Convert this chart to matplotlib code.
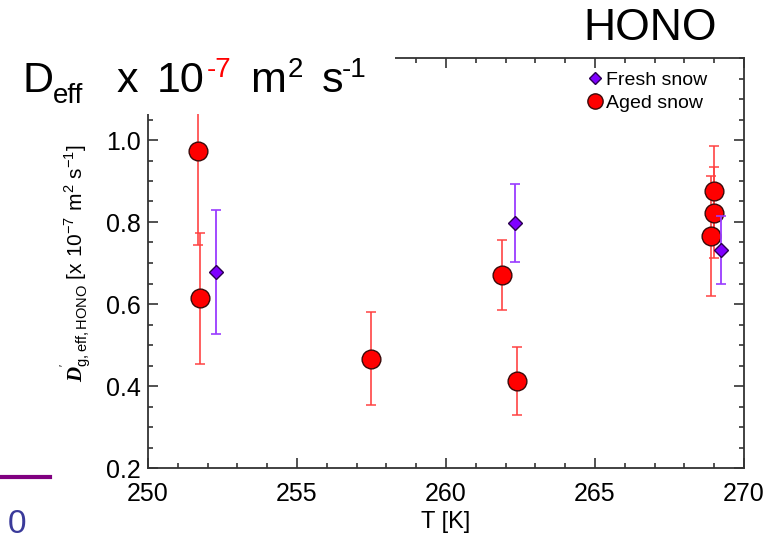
# HONO effective diffusivity vs temperature, fresh / aged snow
import matplotlib
matplotlib.use('Agg')
import matplotlib.pyplot as plt
from matplotlib.lines import Line2D
from matplotlib.patches import Rectangle
from matplotlib.ticker import MultipleLocator

plt.rcParams['font.family'] = ['Liberation Sans', 'DejaVu Sans']
plt.rcParams['mathtext.fontset'] = 'custom'
plt.rcParams['mathtext.rm'] = 'Liberation Sans'
plt.rcParams['mathtext.it'] = 'Liberation Sans:italic'
plt.rcParams['mathtext.bf'] = 'Liberation Serif:italic:bold'

# fresh snow (purple diamonds)
fresh_T = [252.27, 262.30, 269.23]
fresh_D = [0.678, 0.798, 0.732]
fresh_err = [0.152, 0.095, 0.082]

# aged snow (red circles)
aged_T = [251.67, 251.76, 257.48, 261.89, 262.39, 269.00, 269.00, 268.89]
aged_D = [0.974, 0.614, 0.467, 0.671, 0.412, 0.876, 0.823, 0.766]
aged_err = [0.230, 0.160, 0.113, 0.085, 0.082, 0.109, 0.112, 0.147]

legend_labels = ['Fresh snow', 'Aged snow']

W, H = 784, 540
fig = plt.figure(figsize=(W / 100, H / 100), dpi=100)
ax = fig.add_axes([148 / W, 1 - 468 / H, (744 - 148) / W, (468 - 58) / H])

# error bars + markers
ax.errorbar(aged_T, aged_D, yerr=aged_err, fmt='none', ecolor='#ff4040',
            elinewidth=1.3, capsize=3.5, capthick=1.2, alpha=0.9, zorder=2)
ax.plot(aged_T, aged_D, 'o', ms=13.5, mfc='#ff0000', mec='#3a0a0a', mew=1.0,
        ls='none', zorder=3)
ax.errorbar(fresh_T, fresh_D, yerr=fresh_err, fmt='none', ecolor='#9a3cff',
            elinewidth=1.3, capsize=3.5, capthick=1.2, zorder=4)
ax.plot(fresh_T, fresh_D, 'D', ms=7.5, mfc='#7f00ff', mec='#2a0050', mew=1.0,
        ls='none', zorder=5)

ax.set_xlim(250, 270)
ax.set_ylim(0.2, 1.2)
ax.xaxis.set_major_locator(MultipleLocator(5))
ax.xaxis.set_minor_locator(MultipleLocator(1))
ax.yaxis.set_major_locator(MultipleLocator(0.2))
ax.yaxis.set_minor_locator(MultipleLocator(0.05))
ax.tick_params(which='both', direction='in', top=True, right=True,
               labelsize=18, color='#333333', width=1.2)
ax.tick_params(which='major', length=7)
ax.tick_params(which='minor', length=3.5)
ax.tick_params(axis='x', pad=10)
ax.tick_params(axis='y', pad=5)
ax.set_yticks([0.2, 0.4, 0.6, 0.8, 1.0])
ax.yaxis.set_major_formatter(plt.FormatStrFormatter('%.1f'))
for s in ax.spines.values():
    s.set_linewidth(1.3)
    s.set_color('#333333')

ax.set_xlabel('T [K]', fontsize=17, labelpad=4)
ax.set_ylabel(r"$\mathbf{D}^{'}_{\rm g,eff,HONO}$ [x 10$^{-7}$ m$^{2}$ s$^{-1}$]",
              fontsize=15)
ax.yaxis.set_label_coords(-0.09, 0.5)

handles = [
    Line2D([], [], marker='D', ls='none', ms=6.5, mfc='#7f00ff', mec='#2a0050'),
    Line2D([], [], marker='o', ls='none', ms=11, mfc='#ff0000', mec='#3a0a0a'),
]
fig.legend(handles, legend_labels, loc='upper left',
           bbox_to_anchor=(587 / W, 1 - 71 / H), frameon=False, fontsize=14,
           handlelength=0.8, handletextpad=0.2, labelspacing=0.3,
           borderaxespad=0, borderpad=0)

# white box with the big unit label over the top-left corner
fig.add_artist(Rectangle((0, 1 - 114 / H), 395 / W, 114 / H,
                         transform=fig.transFigure, facecolor='white',
                         edgecolor='none', zorder=5))

base = 1 - 92 / H
pieces = [
    ('D', 22, 0, 31, 'black'),
    ('eff', 53, -11, 20, 'black'),
    ('x', 117, 0, 31, 'black'),
    ('10', 157, 0, 31, 'black'),
    ('-7', 207, 15, 20, 'red'),
    ('m', 250, 0, 31, 'black'),
    ('2', 288, 15, 20, 'black'),
    ('s', 322, 0, 31, 'black'),
    ('-1', 342, 15, 20, 'black'),
]
for txt, px, dy, size, col in pieces:
    fig.text(px / W, base + dy / H, txt, fontsize=size, color=col,
             ha='left', va='baseline', zorder=6)

fig.text(583 / W, 1 - 40 / H, 'HONO', fontsize=32, ha='left', va='baseline')

# leftovers of the neighbouring panel
fig.add_artist(Line2D([0, 50 / W], [1 - 477 / H, 1 - 477 / H],
                      transform=fig.transFigure, color='#800080', lw=3))
fig.text(8 / W, 1 - 533 / H, '0', fontsize=24, color='#3a3a9a',
         ha='left', va='baseline')

fig.savefig('out.png', dpi=100)
